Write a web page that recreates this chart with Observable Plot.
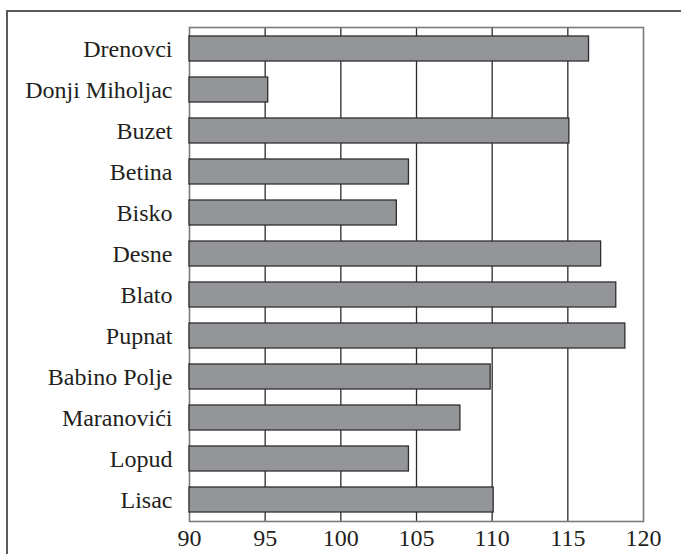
<!DOCTYPE html>
<html>
<head>
<meta charset="utf-8">
<script src="https://cdn.jsdelivr.net/npm/d3@7"></script>
<script src="https://cdn.jsdelivr.net/npm/@observablehq/plot@0.6"></script>
<style>
  html, body { margin: 0; padding: 0; background: #fff; overflow: hidden; width: 681px; height: 554px; }
  #wrap { position: relative; width: 681px; height: 554px; }
  #border { position: absolute; left: 6px; top: 10px; width: 700px; height: 600px;
            border-top: 2px solid #5a5a5a; border-left: 2px solid #5a5a5a; box-sizing: border-box; }
  #chart { position: absolute; left: 0; top: 0; }
</style>
</head>
<body>
<div id="wrap"><div id="border"></div><div id="chart"></div></div>
<script>
const places = ["Drenovci", "Donji Miholjac", "Buzet", "Betina", "Bisko", "Desne", "Blato", "Pupnat", "Babino Polje", "Maranovići", "Lopud", "Lisac"];
const values = [116.4, 95.2, 115.1, 104.5, 103.7, 117.2, 118.2, 118.8, 109.9, 107.9, 104.5, 110.1];
const xTicks = [90, 95, 100, 105, 110, 115, 120];
const gridTicks = [95, 100, 105, 110, 115];

const data = places.map((p, i) => ({place: p, value: values[i]}));
const serif = "'Liberation Serif', 'Times New Roman', Times, serif";

const chart = Plot.plot({
  width: 681,
  height: 554,
  marginLeft: 189,
  marginRight: 38,
  marginTop: 27,
  marginBottom: 33,
  style: {background: "transparent"},
  x: {domain: [90, 120], ticks: xTicks, tickSize: 0, tickPadding: 8, label: null},
  y: {domain: places, paddingInner: 0.4, paddingOuter: 0.22, tickSize: 0, tickPadding: 17, label: null},
  marks: [
    Plot.ruleX(gridTicks, {stroke: "#2b2b2b", strokeWidth: 1.3}),
    Plot.frame({stroke: "#7a7a7a", strokeWidth: 1.6}),
    Plot.barX(data, {x1: 90, x2: "value", y: "place", fill: "#939598", stroke: "#2e2e2e", strokeWidth: 1.3}),
    Plot.axisX({ticks: xTicks, tickSize: 0, tickPadding: 7, fontSize: 24, fontFamily: serif, fill: "#231f20"}),
    Plot.axisY({tickSize: 0, tickPadding: 17, fontSize: 24, fontFamily: serif, fill: "#231f20"})
  ]
});
document.getElementById("chart").appendChild(chart);
</script>
</body>
</html>
